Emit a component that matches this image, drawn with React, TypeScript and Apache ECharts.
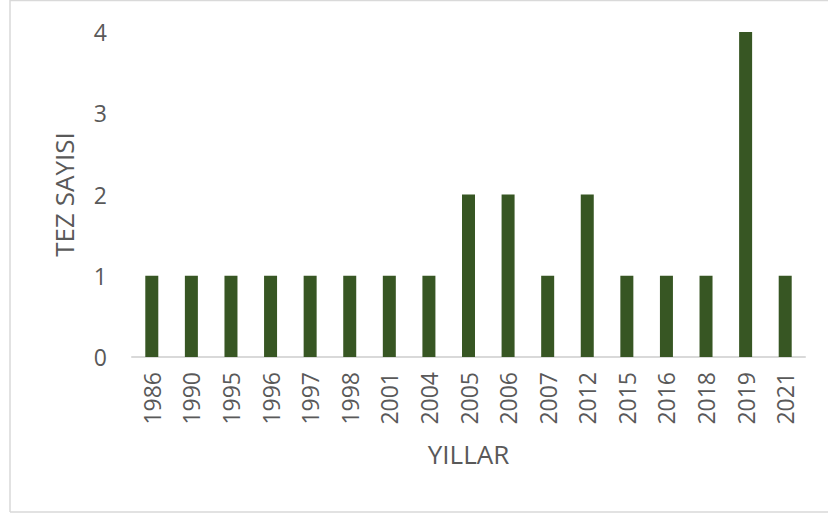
import React, { useEffect, useRef } from "react";
import * as echarts from "echarts";

// Thesis counts per year
const years: string[] = [
  "1986", "1990", "1995", "1996", "1997", "1998", "2001", "2004", "2005",
  "2006", "2007", "2012", "2015", "2016", "2018", "2019", "2021",
];
const thesisCounts: number[] = [1, 1, 1, 1, 1, 1, 1, 1, 2, 2, 1, 2, 1, 1, 1, 4, 1];
const yTicks: number[] = [0, 1, 2, 3, 4];

const W = 828;
const H = 514;
const TEXT = "#595959";
const FONT = "Open Sans";

export default function App() {
  const ref = useRef<HTMLDivElement>(null);

  useEffect(() => {
    if (!ref.current) return;
    const chart = echarts.init(ref.current, undefined, { renderer: "svg" });
    chart.setOption({
      animation: false,
      backgroundColor: "#ffffff",
      grid: { left: 132, right: 23, top: 32, bottom: 157 },
      graphic: [
        { type: "line", shape: { x1: 10, y1: 0.5, x2: W, y2: 0.5 }, style: { stroke: "#d9d9d9", lineWidth: 1.5 } },
        { type: "line", shape: { x1: 10, y1: 0, x2: 10, y2: 512 }, style: { stroke: "#d9d9d9", lineWidth: 1.5 } },
        { type: "line", shape: { x1: 10, y1: 512, x2: W, y2: 512 }, style: { stroke: "#d9d9d9", lineWidth: 1.5 } },
      ],
      xAxis: {
        type: "category",
        data: years,
        name: "YILLAR",
        nameLocation: "middle",
        nameGap: 84,
        nameTextStyle: { color: TEXT, fontSize: 26, fontFamily: FONT },
        axisLine: { lineStyle: { color: "#d9d9d9", width: 2 } },
        axisTick: { show: false },
        axisLabel: { rotate: 90, color: TEXT, fontSize: 23, fontFamily: FONT, margin: 15 },
      },
      yAxis: {
        type: "value",
        min: yTicks[0],
        max: yTicks[yTicks.length - 1],
        interval: 1,
        name: "TEZ SAYISI",
        nameLocation: "middle",
        nameRotate: 90,
        nameGap: 55,
        nameTextStyle: { color: TEXT, fontSize: 26, fontFamily: FONT },
        axisLine: { show: false },
        axisTick: { show: false },
        splitLine: { show: false },
        axisLabel: { color: TEXT, fontSize: 23, fontFamily: FONT, margin: 25 },
      },
      series: [
        {
          type: "bar",
          data: thesisCounts,
          barWidth: 13,
          itemStyle: { color: "#375623" },
        },
      ],
    });
    return () => chart.dispose();
  }, []);

  return (
    <div
      ref={ref}
      style={{ position: "absolute", left: 0, top: 0, width: W, height: H }}
    />
  );
}
